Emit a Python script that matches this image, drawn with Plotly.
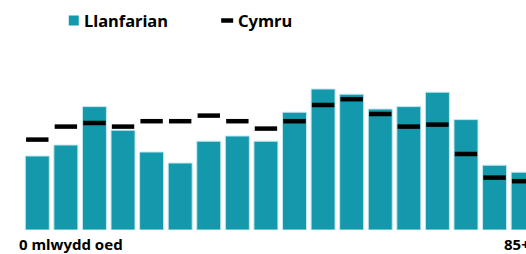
import plotly.graph_objects as go

age_groups = ["0-4", "5-9", "10-14", "15-19", "20-24", "25-29", "30-34", "35-39", "40-44",
              "45-49", "50-54", "55-59", "60-64", "65-69", "70-74", "75-79", "80-84", "85+"]
llanfarian = [3.70, 4.25, 6.17, 4.99, 3.90, 3.35, 4.44, 4.70, 4.44, 5.89, 7.05, 6.79, 6.05, 6.17, 6.89, 5.52, 3.24, 2.89]
cymru = [4.52, 5.17, 5.35, 5.17, 5.44, 5.44, 5.72, 5.44, 5.07, 5.44, 6.25, 6.54, 5.80, 5.17, 5.27, 3.80, 2.62, 2.44]
first_label = "0 mlwydd oed"
last_label = "85+"
series_names = ["Llanfarian", "Cymru"]

teal = "#1499ac"
font_family = "Noto Sans, Open Sans, sans-serif"

W, H = 526, 254
L, R, T, B = 22.7, 0, 40, 24
PW, PH = W - L - R, H - T - B


def px(x):
    return (x - L) / PW


def py(y):
    return (H - B - y) / PH


fig = go.Figure()
fig.add_trace(go.Bar(
    x=age_groups, y=llanfarian, name=series_names[0],
    marker=dict(color=teal, line=dict(color="#c4e8ee", width=1)),
))
fig.add_trace(go.Scatter(
    x=age_groups, y=cymru, name=series_names[1], mode="markers",
    marker=dict(symbol="line-ew", size=16, line=dict(color="black", width=4.5)),
    cliponaxis=False,
))

# bottom labels
fig.add_annotation(x=px(17), y=py(244.5), xref="paper", yref="paper", xanchor="left", yanchor="middle",
                   text=f"<b>{first_label}</b>", showarrow=False,
                   font=dict(size=15, color="black", family=font_family))
fig.add_annotation(x=px(502), y=py(244.5), xref="paper", yref="paper", xanchor="left", yanchor="middle",
                   text=f"<b>{last_label}</b>", showarrow=False,
                   font=dict(size=15, color="black", family=font_family))

# legend (drawn manually)
fig.add_shape(type="rect", xref="paper", yref="paper", x0=px(68.5), x1=px(78.5), y0=py(25.5), y1=py(15.5),
              fillcolor=teal, line=dict(width=0))
fig.add_annotation(x=px(82), y=py(20.5), xref="paper", yref="paper", xanchor="left", yanchor="middle",
                   text=f"<b>{series_names[0]}</b>", showarrow=False,
                   font=dict(size=16.5, color="black", family=font_family))
fig.add_shape(type="line", xref="paper", yref="paper", x0=px(221), x1=px(233), y0=py(20.5), y1=py(20.5),
              line=dict(color="black", width=4.5))
fig.add_annotation(x=px(236), y=py(20.5), xref="paper", yref="paper", xanchor="left", yanchor="middle",
                   text=f"<b>{series_names[1]}</b>", showarrow=False,
                   font=dict(size=16.5, color="black", family=font_family))

fig.update_layout(
    width=W, height=H,
    margin=dict(l=L, r=R, t=T, b=B, pad=0, autoexpand=False),
    paper_bgcolor="white", plot_bgcolor="white",
    bargap=0.16,
    font=dict(family=font_family, color="black"),
    showlegend=False,
    xaxis=dict(range=[-0.5, 17.1], showticklabels=False, showgrid=False, zeroline=False,
               showline=False, ticks=""),
    yaxis=dict(range=[0, 9.5], visible=False),
)

fig.write_html("out.html", config={"displayModeBar": False},
               post_script="document.body.style.margin='0';document.body.style.overflow='hidden';")
